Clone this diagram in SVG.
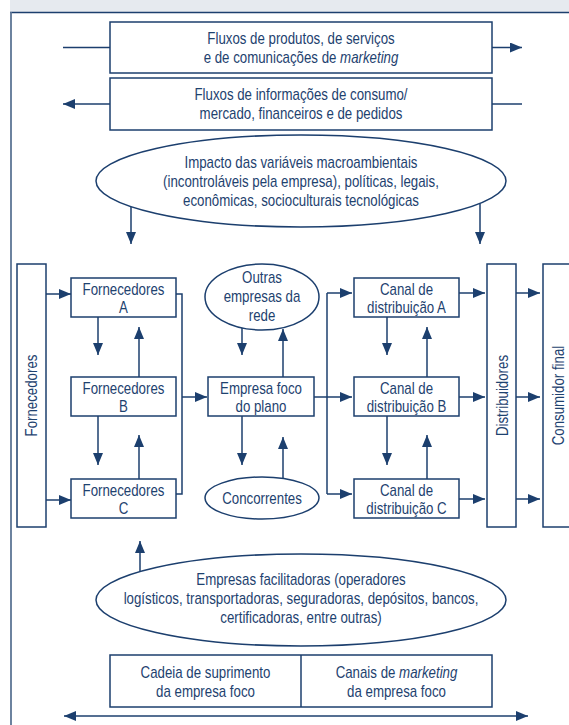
<svg xmlns="http://www.w3.org/2000/svg" width="569" height="725" viewBox="0 0 569 725">
<style>
.box{fill:#fff;stroke:#1c3f6e;stroke-width:1.5}
.t{font-family:"Liberation Sans",Arial,sans-serif;font-size:16px;fill:#1e426f;text-anchor:middle}
.ln{fill:none;stroke:#1c3f6e;stroke-width:1.5}
.ar{fill:none;stroke:#1c3f6e;stroke-width:1.5;marker-end:url(#ah)}
.i{font-style:italic}
</style>
<defs>
<marker id="ah" markerUnits="userSpaceOnUse" markerWidth="12" markerHeight="10" refX="12" refY="5" orient="auto">
<path d="M0,0 L12,5 L0,10 z" fill="#1c3f6e"/>
</marker>
<marker id="ahs" markerUnits="userSpaceOnUse" markerWidth="12" markerHeight="10" refX="0" refY="5" orient="auto">
<path d="M12,0 L0,5 L12,10 z" fill="#1c3f6e"/>
</marker>
</defs>
<rect x="0" y="0" width="569" height="725" fill="#fff"/>
<g id="frame">
<rect x="10" y="0" width="559" height="12" fill="#e6eaef"/>
<line x1="10" y1="12.5" x2="569" y2="12.5" stroke="#1c3f6e" stroke-width="1.5"/>
<line x1="11" y1="12" x2="11" y2="725" stroke="#5d7595" stroke-width="1.8"/>
</g>
<g id="connectors">
<line class="ln" x1="63" y1="47.5" x2="110" y2="47.5"/>
<line class="ar" x1="492" y1="47.5" x2="522" y2="47.5"/>
<line class="ar" x1="110" y1="104" x2="63" y2="104"/>
<line class="ln" x1="492" y1="104" x2="522" y2="104"/>
<line class="ar" x1="131" y1="206.5" x2="131" y2="244"/>
<line class="ar" x1="480" y1="203.5" x2="480" y2="244"/>
<line class="ar" x1="46" y1="294" x2="71" y2="294"/>
<line class="ar" x1="46" y1="500" x2="71" y2="500"/>
<line class="ar" x1="98" y1="317" x2="98" y2="355"/>
<line class="ar" x1="98" y1="416" x2="98" y2="465"/>
<line class="ar" x1="139" y1="377" x2="139" y2="327"/>
<line class="ar" x1="139" y1="479" x2="139" y2="435"/>
<polyline class="ln" points="176,294 182,294 182,494 176,494"/>
<line class="ar" x1="182" y1="397" x2="207" y2="397"/>
<line class="ar" x1="242" y1="328" x2="242" y2="355"/>
<line class="ar" x1="283" y1="377" x2="283" y2="329"/>
<line class="ar" x1="242" y1="416" x2="242" y2="465"/>
<line class="ar" x1="283" y1="478" x2="283" y2="437"/>
<line class="ln" x1="314" y1="397" x2="327" y2="397"/>
<line class="ln" x1="327" y1="293" x2="327" y2="494"/>
<line class="ar" x1="327" y1="293" x2="352" y2="293"/>
<line class="ar" x1="327" y1="397" x2="352" y2="397"/>
<line class="ar" x1="327" y1="494" x2="352" y2="494"/>
<line class="ar" x1="387" y1="317" x2="387" y2="355"/>
<line class="ar" x1="387" y1="416" x2="387" y2="465"/>
<line class="ar" x1="427" y1="377" x2="427" y2="327"/>
<line class="ar" x1="427" y1="479" x2="427" y2="435"/>
<line class="ar" x1="459" y1="293" x2="485" y2="293"/>
<line class="ar" x1="459" y1="397" x2="485" y2="397"/>
<line class="ar" x1="459" y1="499" x2="485" y2="499"/>
<line class="ar" x1="516" y1="293" x2="540" y2="293"/>
<line class="ar" x1="516" y1="397" x2="540" y2="397"/>
<line class="ar" x1="516" y1="499" x2="540" y2="499"/>
<line class="ar" x1="140" y1="571.5" x2="140" y2="541"/>
<line class="ar" x1="64" y1="716" x2="528" y2="716" marker-start="url(#ahs)"/>
</g>
<g id="fluxos-produtos">
<rect class="box" x="110" y="22" width="382" height="51"/>
<text class="t" transform="translate(301,44) scale(0.83,1)"><tspan x="0">Fluxos de produtos, de serviços</tspan><tspan x="0" dy="19">e de comunicações de <tspan class="i">marketing</tspan></tspan></text>
</g>
<g id="fluxos-informacoes">
<rect class="box" x="110" y="78" width="382" height="52"/>
<text class="t" transform="translate(301,100) scale(0.83,1)"><tspan x="0">Fluxos de informações de consumo/</tspan><tspan x="0" dy="19">mercado, financeiros e de pedidos</tspan></text>
</g>
<g id="impacto">
<ellipse class="box" cx="301" cy="181" rx="205" ry="46"/>
<text class="t" transform="translate(301,168) scale(0.83,1)"><tspan x="0">Impacto das variáveis macroambientais</tspan><tspan x="0" dy="19">(incontroláveis pela empresa), políticas, legais,</tspan><tspan x="0" dy="19">econômicas, socioculturais tecnológicas</tspan></text>
</g>
<g id="fornecedores">
<rect class="box" x="17" y="264" width="29" height="263"/>
<text class="t" transform="translate(37,395.5) rotate(-90) scale(0.83,1)">Fornecedores</text>
</g>
<g id="fornecedores-a">
<rect class="box" x="71" y="278" width="105" height="39"/>
<text class="t" transform="translate(123.5,295) scale(0.83,1)"><tspan x="0">Fornecedores</tspan><tspan x="0" dy="18">A</tspan></text>
</g>
<g id="fornecedores-b">
<rect class="box" x="71" y="377" width="105" height="39"/>
<text class="t" transform="translate(123.5,394) scale(0.83,1)"><tspan x="0">Fornecedores</tspan><tspan x="0" dy="18">B</tspan></text>
</g>
<g id="fornecedores-c">
<rect class="box" x="71" y="479" width="105" height="39"/>
<text class="t" transform="translate(123.5,496) scale(0.83,1)"><tspan x="0">Fornecedores</tspan><tspan x="0" dy="18">C</tspan></text>
</g>
<g id="outras-empresas">
<ellipse class="box" cx="262" cy="297" rx="57" ry="33"/>
<text class="t" transform="translate(262,283) scale(0.83,1)"><tspan x="0">Outras</tspan><tspan x="0" dy="19">empresas da</tspan><tspan x="0" dy="19">rede</tspan></text>
</g>
<g id="empresa-foco">
<rect class="box" x="208" y="377" width="106" height="39"/>
<text class="t" transform="translate(261,394) scale(0.83,1)"><tspan x="0">Empresa foco</tspan><tspan x="0" dy="18">do plano</tspan></text>
</g>
<g id="concorrentes">
<ellipse class="box" cx="262" cy="498" rx="57" ry="21"/>
<text class="t" transform="translate(262,504) scale(0.83,1)">Concorrentes</text>
</g>
<g id="canal-a">
<rect class="box" x="354" y="278" width="105" height="39"/>
<text class="t" transform="translate(406.5,295) scale(0.83,1)"><tspan x="0">Canal de</tspan><tspan x="0" dy="18">distribuição A</tspan></text>
</g>
<g id="canal-b">
<rect class="box" x="354" y="377" width="105" height="39"/>
<text class="t" transform="translate(406.5,394) scale(0.83,1)"><tspan x="0">Canal de</tspan><tspan x="0" dy="18">distribuição B</tspan></text>
</g>
<g id="canal-c">
<rect class="box" x="354" y="479" width="105" height="39"/>
<text class="t" transform="translate(406.5,496) scale(0.83,1)"><tspan x="0">Canal de</tspan><tspan x="0" dy="18">distribuição C</tspan></text>
</g>
<g id="distribuidores">
<rect class="box" x="487" y="264" width="29" height="263"/>
<text class="t" transform="translate(507.5,395.5) rotate(-90) scale(0.83,1)">Distribuidores</text>
</g>
<g id="consumidor-final">
<rect class="box" x="543" y="264" width="29" height="263"/>
<text class="t" transform="translate(563.5,395.5) rotate(-90) scale(0.83,1)">Consumidor final</text>
</g>
<g id="facilitadoras">
<ellipse class="box" cx="301" cy="600" rx="205" ry="46"/>
<text class="t" transform="translate(301,585) scale(0.83,1)"><tspan x="0">Empresas facilitadoras (operadores</tspan><tspan x="0" dy="19">logísticos, transportadoras, seguradoras, depósitos, bancos,</tspan><tspan x="0" dy="19">certificadoras, entre outras)</tspan></text>
</g>
<g id="cadeia-canais">
<rect class="box" x="110" y="655" width="382" height="52"/>
<line class="ln" x1="301" y1="655" x2="301" y2="707"/>
<text class="t" transform="translate(205.5,678) scale(0.83,1)"><tspan x="0">Cadeia de suprimento</tspan><tspan x="0" dy="19">da empresa foco</tspan></text>
<text class="t" transform="translate(396.5,678) scale(0.83,1)"><tspan x="0">Canais de <tspan class="i">marketing</tspan></tspan><tspan x="0" dy="19">da empresa foco</tspan></text>
</g>
</svg>
